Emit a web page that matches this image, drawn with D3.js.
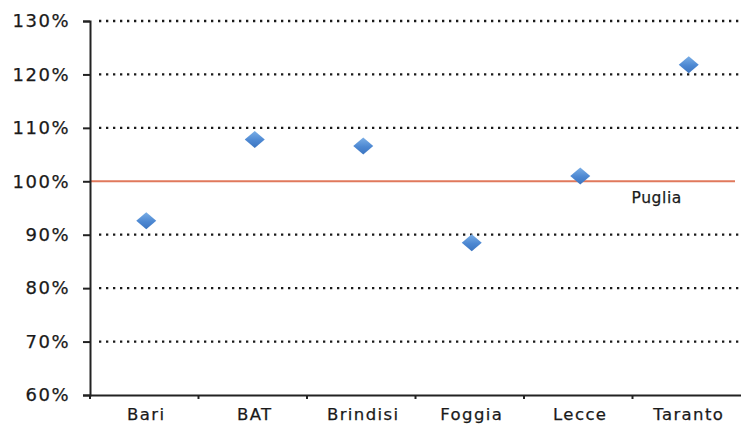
<!DOCTYPE html>
<html><head><meta charset="utf-8">
<script src="https://cdn.jsdelivr.net/npm/d3@7/dist/d3.min.js"></script>
<style>
html,body{margin:0;padding:0;background:#fff;}
svg{display:block;}
</style></head>
<body>
<svg id="chart" width="741" height="424"></svg>
<script>
const categories = ["Bari","BAT","Brindisi","Foggia","Lecce","Taranto"];
const values = [0.926, 1.078, 1.066, 0.885, 1.010, 1.218];
const yTicks = [0.6,0.7,0.8,0.9,1.0,1.1,1.2,1.3];
const gridTicks = [0.7,0.8,0.9,1.1,1.2,1.3];
const referenceValue = 1.0;
const referenceLabel = "Puglia";

const svg = d3.select("#chart");
const mLeft = 90, mRight = 741, mTop = 21, mBottom = 395;

const x = d3.scaleBand().domain(categories).range([mLeft, mRight]).padding(0);
const y = d3.scaleLinear().domain([0.6, 1.3]).range([mBottom, mTop]);

const defs = svg.append("defs");
const grad = defs.append("linearGradient").attr("id","dg").attr("x1","0").attr("y1","0").attr("x2","0").attr("y2","1");
grad.append("stop").attr("offset","0%").attr("stop-color","#7aaee6");
grad.append("stop").attr("offset","55%").attr("stop-color","#4d88d2");
grad.append("stop").attr("offset","100%").attr("stop-color","#3b74c0");

const textStyle = sel => sel.attr("font-family","DejaVu Sans, sans-serif")
  .attr("fill","#1a1a1a").attr("stroke","#1a1a1a").attr("stroke-width",0.25);

// grid
svg.append("g").selectAll("line").data(gridTicks).join("line")
  .attr("x1", mLeft + 9).attr("x2", mRight)
  .attr("y1", d => y(d)).attr("y2", d => y(d))
  .attr("stroke", "#1a1a1a").attr("stroke-width", 2.3)
  .attr("stroke-dasharray", "2.3,4.7");

// reference line
svg.append("line")
  .attr("x1", mLeft).attr("x2", mRight - 6)
  .attr("y1", y(referenceValue)).attr("y2", y(referenceValue))
  .attr("stroke", "#e0795c").attr("stroke-width", 2);

// y axis
const yAxis = d3.axisLeft(y).tickValues(yTicks).tickSize(7).tickPadding(13)
  .tickFormat(d => Math.round(d*100) + "%");
const gy = svg.append("g").attr("transform", `translate(${mLeft},0)`).call(yAxis);
gy.select(".domain").attr("stroke","#222").attr("stroke-width",2);
gy.selectAll(".tick line").attr("stroke","#222").attr("stroke-width",2);
gy.selectAll(".tick text").call(textStyle).attr("font-size","18px").attr("letter-spacing","1.5px");

// x axis
const xAxis = d3.axisBottom(x).tickSize(0).tickPadding(0).tickFormat("");
const gx = svg.append("g").attr("transform", `translate(0,${mBottom})`).call(xAxis);
gx.select(".domain").attr("stroke","#222").attr("stroke-width",2);
gx.selectAll(".tick").remove();
// boundary ticks
svg.append("g").selectAll("line").data(categories).join("line")
  .attr("x1", d => x(d)).attr("x2", d => x(d))
  .attr("y1", mBottom).attr("y2", mBottom + 4)
  .attr("stroke","#222").attr("stroke-width",2);
// category labels
svg.append("g").selectAll("text").data(categories).join("text")
  .attr("x", d => x(d) + x.bandwidth()/2 + 2)
  .attr("y", mBottom + 25)
  .attr("text-anchor","middle")
  .call(textStyle).attr("font-size","16.5px").attr("letter-spacing","1.4px")
  .text(d => d);

// reference label
svg.append("text")
  .attr("x", x("Taranto") - 1).attr("y", y(referenceValue) + 22)
  .call(textStyle).attr("font-size","15.5px").attr("letter-spacing","0.6px")
  .text(referenceLabel);

// diamonds
const diamond = "M0,-8.5L10,0L0,8.5L-10,0Z";
svg.append("g").selectAll("path").data(categories).join("path")
  .attr("d", diamond)
  .attr("transform", (d,i) => `translate(${x(d) + x.bandwidth()/2 + 2},${y(values[i])})`)
  .attr("fill","url(#dg)");
</script>
</body></html>
